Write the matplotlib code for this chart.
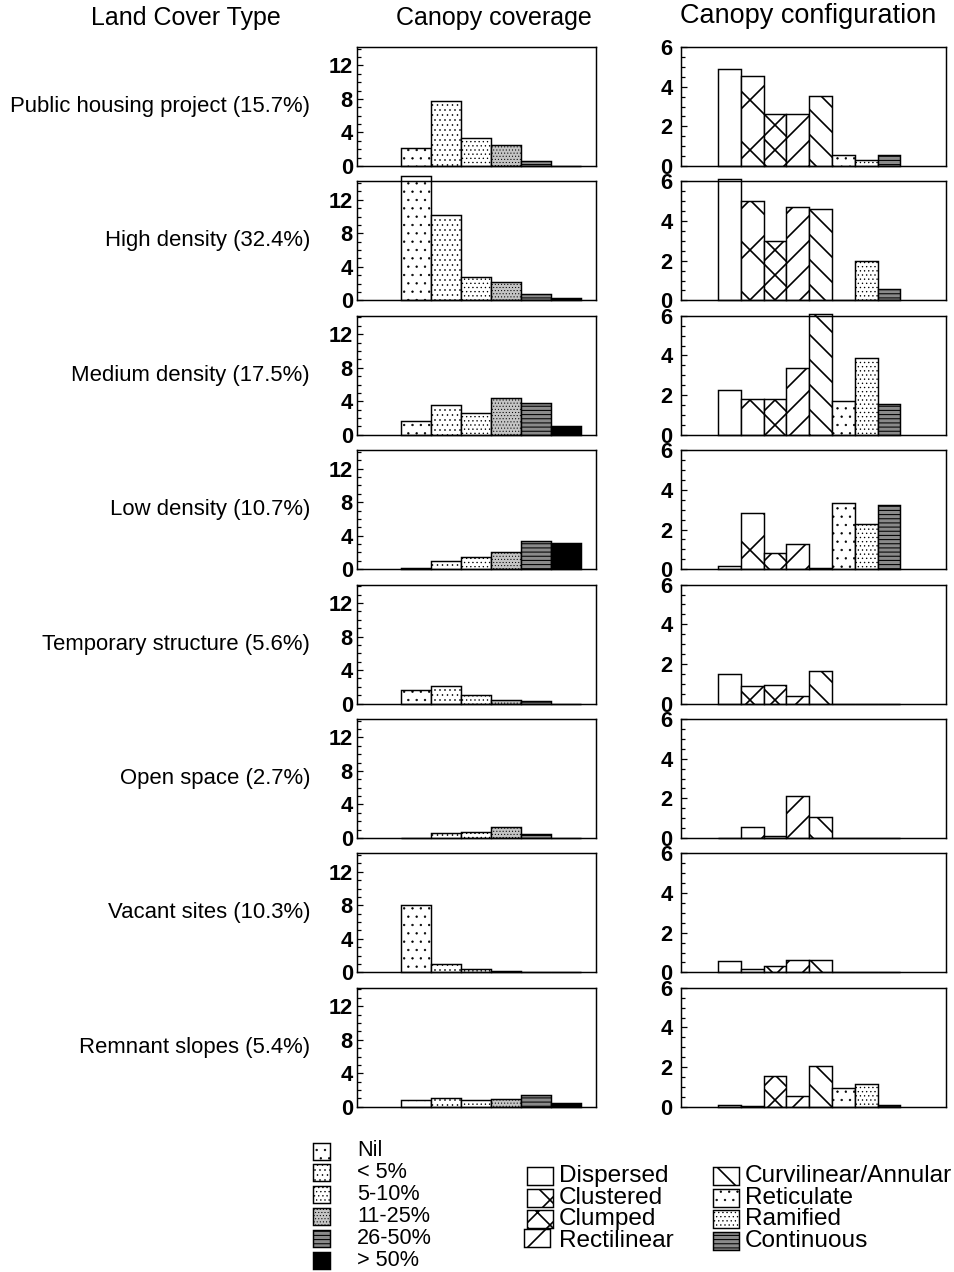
import numpy as np
import matplotlib.pyplot as plt
from matplotlib.patches import Rectangle
from matplotlib.ticker import MultipleLocator

plt.rcParams['font.family'] = ['Liberation Sans', 'DejaVu Sans']
plt.rcParams['hatch.linewidth'] = 0.8

# data
land_cover = ['Public housing project (15.7%)', 'High density (32.4%)',
              'Medium density (17.5%)', 'Low density (10.7%)',
              'Temporary structure (5.6%)', 'Open space (2.7%)',
              'Vacant sites (10.3%)', 'Remnant slopes (5.4%)']

coverage_classes = ['Nil', '< 5%', '5-10%', '11-25%', '26-50%', '> 50%']
config_classes = ['Dispersed', 'Clustered', 'Clumped', 'Rectilinear',
                  'Curvilinear/Annular', 'Reticulate', 'Ramified', 'Continuous']

# canopy coverage, one row per land cover type
coverage = [
    [2.2, 7.7, 3.4, 2.5, 0.56, 0.0],
    [14.9, 10.2, 2.8, 2.2, 0.76, 0.24],
    [1.6, 3.6, 2.6, 4.4, 3.85, 1.1],
    [0.16, 1.0, 1.45, 2.0, 3.4, 3.1],
    [1.64, 2.08, 1.04, 0.48, 0.28, 0.0],
    [0.0, 0.64, 0.72, 1.28, 0.52, 0.0],
    [8.1, 1.0, 0.36, 0.16, 0.0, 0.0],
    [0.84, 1.0, 0.8, 0.92, 1.44, 0.44],
]

# canopy configuration, one row per land cover type
configuration = [
    [4.9, 4.55, 2.6, 2.6, 3.53, 0.53, 0.29, 0.53],
    [6.1, 5.0, 3.0, 4.7, 4.6, 0.0, 2.0, 0.55],
    [2.27, 1.83, 1.78, 3.37, 6.08, 1.68, 3.85, 1.56],
    [0.14, 2.84, 0.84, 1.29, 0.05, 3.33, 2.26, 3.22],
    [1.48, 0.88, 0.95, 0.37, 1.62, 0.0, 0.0, 0.0],
    [0.0, 0.56, 0.09, 2.1, 1.08, 0.0, 0.0, 0.0],
    [0.6, 0.17, 0.34, 0.62, 0.62, 0.0, 0.0, 0.0],
    [0.07, 0.05, 1.54, 0.52, 2.04, 0.95, 1.13, 0.1],
]

# fill styles
cov_face = ['white', 'white', 'white', '#c4c4c4', '#8a8a8a', 'black']
cov_hatch = ['...', '.....', '......', '........', '------', None]
cov_hlw = [0.3, 0.3, 0.3, 0.25, 0.5, 0.5]
conf_face = ['white', 'white', 'white', 'white', 'white', 'white', 'white', '#8a8a8a']
conf_hatch = [None, 'x', 'xx', '//', '\\\\', '...', '......', '------']
conf_hlw = [0.8, 0.8, 0.8, 0.8, 0.8, 0.3, 0.3, 0.5]

W, H, DPI = 954, 1272, 150
fig = plt.figure(figsize=(W / DPI, H / DPI), dpi=DPI)


def fx(px):
    return px / W


def fy(px):
    return 1 - px / H


def set_hlw(patch, lw):
    if hasattr(patch, 'set_hatch_linewidth'):
        patch.set_hatch_linewidth(lw)


def draw_bars(ax, values, faces, hatches, hlws):
    for j, v in enumerate(values):
        with plt.rc_context({'hatch.linewidth': hlws[j]}):
            bars = ax.bar(j, v, width=1, align='edge', facecolor=faces[j],
                          edgecolor='black', hatch=hatches[j], linewidth=0.7, clip_on=False)
        for b in bars:
            set_hlw(b, hlws[j])


def style_axis(ax, major, minor, pad):
    ax.set_xticks([])
    ax.set_yticks(major)
    ax.yaxis.set_minor_locator(MultipleLocator(minor))
    ax.tick_params(axis='y', which='both', direction='in', length=3, width=0.6, pad=pad)
    ax.tick_params(axis='y', which='minor', length=2)
    for lab in ax.get_yticklabels():
        lab.set_fontsize(10.5)
        lab.set_fontweight('bold')
    for sp in ax.spines.values():
        sp.set_linewidth(0.7)


def legend_box(x, yc, w, h, face, hatch, hlw):
    with plt.rc_context({'hatch.linewidth': hlw}):
        r = Rectangle((fx(x), fy(yc + h / 2)), fx(w), h / H, transform=fig.transFigure,
                      facecolor=face, edgecolor='black', hatch=hatch, linewidth=0.7)
    set_hlw(r, hlw)
    fig.add_artist(r)


top0, step, ph = 47, 134.4, 119

for i, name in enumerate(land_cover):
    top = top0 + step * i
    y0 = fy(top + ph)

    # canopy coverage panel
    ax = fig.add_axes([fx(357), y0, fx(596 - 357), ph / H])
    draw_bars(ax, coverage[i], cov_face, cov_hatch, cov_hlw)
    ax.set_xlim(-1.47, 6.5)
    ax.set_ylim(0, 14.2)
    style_axis(ax, [0, 4, 8, 12], 1, 2)

    fig.text(fx(310), fy(top + ph / 2), name, ha='right', va='center', fontsize=10.6)

    # canopy configuration panel
    ax2 = fig.add_axes([fx(681), y0, fx(946 - 681), ph / H])
    draw_bars(ax2, configuration[i], conf_face, conf_hatch, conf_hlw)
    ax2.set_xlim(-1.63, 10.0)
    ax2.set_ylim(0, 6)
    style_axis(ax2, [0, 2, 4, 6], 0.5, 4)

# column headers
fig.text(fx(186), fy(18), 'Land Cover Type', ha='center', va='center', fontsize=12)
fig.text(fx(494), fy(18), 'Canopy coverage', ha='center', va='center', fontsize=12)
fig.text(fx(808), fy(16), 'Canopy configuration', ha='center', va='center', fontsize=13)

# legend for canopy coverage
for k, lab in enumerate(coverage_classes):
    yc = 1151 + 21.8 * k
    legend_box(313, yc, 17, 17, cov_face[k], cov_hatch[k], cov_hlw[k])
    fig.text(fx(357), fy(yc), lab, ha='left', va='center', fontsize=10.4)

# legend for canopy configuration, two columns of four
for k, lab in enumerate(config_classes):
    col, row = divmod(k, 4)
    bx = [527, 713][col]
    yc = 1176 + 21.7 * row
    # nudge the rectilinear swatch so a hatch line runs through its middle
    dx = -3 if lab == 'Rectilinear' else 0
    legend_box(bx + dx, yc + dx, 26, 18, conf_face[k], conf_hatch[k], conf_hlw[k])
    fig.text(fx(bx + 32), fy(yc), lab, ha='left', va='center', fontsize=11.7)

fig.savefig('out.png', dpi=DPI, facecolor='white')
